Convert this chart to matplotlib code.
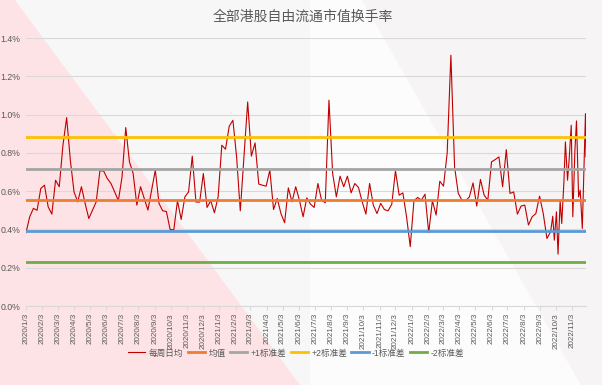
import numpy as np
import pandas as pd
import matplotlib
matplotlib.use("Agg")
import matplotlib.pyplot as plt
from matplotlib.patches import Polygon

plt.rcParams['font.family'] = ['Liberation Sans', 'Noto Sans CJK SC', 'DejaVu Sans']

### data (turnover, %)
title = '全部港股自由流通市值换手率'
series_name = '每周日均'

# weekly points, 2020/1/3 onwards
weekly_vals = [
    0.383, 0.466, 0.510, 0.500, 0.614, 0.631, 0.518, 0.480, 0.657, 0.623,
    0.840, 0.984, 0.762, 0.596, 0.544, 0.623, 0.536, 0.457, 0.501, 0.544,
    0.706, 0.706, 0.666, 0.640, 0.596, 0.550, 0.675, 0.932, 0.753, 0.692,
    0.527, 0.623, 0.562, 0.501, 0.605, 0.710, 0.536, 0.497, 0.494, 0.400,
    0.397, 0.550, 0.452, 0.570, 0.596, 0.783, 0.543, 0.543, 0.692, 0.515,
    0.550, 0.487, 0.570, 0.840, 0.819, 0.939, 0.970, 0.779, 0.497, 0.780,
    1.066, 0.783, 0.852, 0.637, 0.631, 0.626, 0.710, 0.504, 0.562, 0.483,
    0.435, 0.617, 0.544, 0.623, 0.553, 0.466, 0.565, 0.532, 0.515, 0.640,
    0.553, 0.539, 1.075, 0.692, 0.570, 0.678, 0.623, 0.678, 0.591, 0.640,
    0.619, 0.544, 0.480, 0.640, 0.527, 0.483, 0.536, 0.504, 0.497, 0.532,
    0.706, 0.579, 0.591, 0.466, 0.310, 0.550, 0.567, 0.553, 0.584, 0.383,
    0.550, 0.475, 0.652, 0.626, 0.800, 1.310, 0.727, 0.588, 0.553, 0.550,
    0.570, 0.643, 0.522, 0.661, 0.579, 0.553, 0.753, 0.765, 0.779, 0.623,
    0.817, 0.588, 0.596, 0.480, 0.522, 0.527, 0.423, 0.466, 0.483, 0.574,
    0.483, 0.353, 0.388,
]
weekly_dates = pd.date_range('2020-01-03', periods=len(weekly_vals), freq='7D')

# denser points at the end
tail_dates = pd.to_datetime([
    '2022-09-27', '2022-09-30', '2022-10-04', '2022-10-07', '2022-10-11',
    '2022-10-14', '2022-10-18', '2022-10-21', '2022-10-25', '2022-10-28',
    '2022-11-01', '2022-11-04', '2022-11-08', '2022-11-11', '2022-11-15',
    '2022-11-18', '2022-11-22', '2022-11-28', '2022-11-29',
])
tail_vals = [
    0.469, 0.344, 0.492, 0.271, 0.550, 0.431, 0.640, 0.857, 0.657, 0.762,
    0.944, 0.466, 0.814, 0.967, 0.570, 0.605, 0.405, 1.005, 0.780,
]

dates = weekly_dates.append(tail_dates)
vals = np.array(weekly_vals + tail_vals)

mean_val = 0.555
std_val = 0.163
band_names = ['均值', '+1标准差', '+2标准差', '-1标准差', '-2标准差']
band_mult = [0, 1, 2, -1, -2]
band_colors = ['#ed7d31', '#a5a5a5', '#ffc000', '#5b9bd5', '#70ad47']

tick_dates = pd.date_range('2020-01-03', '2022-11-03', freq=pd.DateOffset(months=1))
tick_labels = [f'{d.year}/{d.month}/{d.day}' for d in tick_dates]
y_ticks = [0.0, 0.2, 0.4, 0.6, 0.8, 1.0, 1.2, 1.4]

### Plot
W, H = 602, 385
fig = plt.figure(figsize=(W / 100, H / 100), dpi=100)
fig.patch.set_facecolor('#fdfcfd')

def px(pts):
    return [(x / W, 1 - y / H) for x, y in pts]

# decorative background
fig.patches.append(Polygon(px([(15, 0), (310, 0), (310, 385), (300, 385)]), closed=True,
                           transform=fig.transFigure, facecolor='#f8f7f8', edgecolor='none', zorder=-3))
fig.patches.append(Polygon(px([(362, 0), (602, 0), (602, 385), (581, 385)]), closed=True,
                           transform=fig.transFigure, facecolor='#f6f4f5', edgecolor='none', zorder=-3))
fig.patches.append(Polygon(px([(0, 0), (15, 0), (300, 385), (0, 385)]), closed=True,
                           transform=fig.transFigure, facecolor='#fde3e5', edgecolor='none', zorder=-2))

ax = fig.add_axes([26 / W, 1 - 306 / H, (586 - 26) / W, (306 - 38) / H])
ax.patch.set_alpha(0)

ax.plot(dates, vals, color='#c00000', lw=0.8, label=series_name, zorder=3)
for name, m, c in zip(band_names, band_mult, band_colors):
    ax.axhline(mean_val + m * std_val, color=c, lw=2.0, label=name, zorder=4)

ax.set_ylim(0, 1.4)
ax.set_xlim(dates[0], dates[-1])
ax.set_yticks(y_ticks)
ax.set_yticklabels([f'{v:.1f}%' for v in y_ticks])
ax.set_xticks(tick_dates)
ax.set_xticklabels(tick_labels, rotation=90)
ax.tick_params(axis='x', length=3, color='#d9d9d9', labelsize=5.8, labelcolor='#595959', pad=2)
ax.tick_params(axis='y', length=0, labelsize=6.3, labelcolor='#595959', pad=4)
ax.grid(axis='y', color='#d9d9d9', lw=0.8, zorder=0)
ax.set_axisbelow(True)
for s in ['left', 'right', 'top']:
    ax.spines[s].set_visible(False)
ax.spines['bottom'].set_color('#d9d9d9')

fig.text(0.503, 1 - 17 / H, title, ha='center', va='center', fontsize=10, color='#595959')

leg = fig.legend(loc='center', bbox_to_anchor=(0.492, 1 - 353 / H), ncol=6, frameon=False,
                 fontsize=6.2, handlelength=2.0, handletextpad=0.4, columnspacing=0.5)
for t in leg.get_texts():
    t.set_color('#595959')

fig.savefig('out.png', dpi=100, facecolor=fig.get_facecolor())
